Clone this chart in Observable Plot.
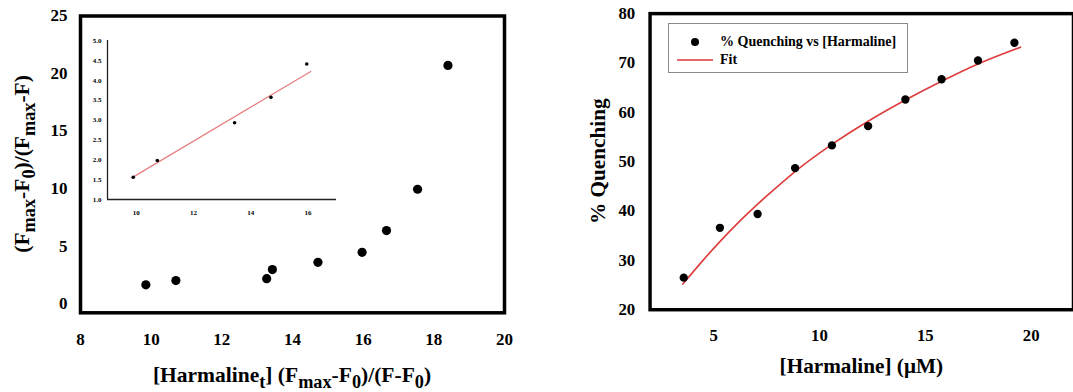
<!DOCTYPE html>
<html><head><meta charset="utf-8">
<script src="https://cdn.jsdelivr.net/npm/d3@7"></script>
<script src="https://cdn.jsdelivr.net/npm/@observablehq/plot@0.6"></script>
<style>
html,body{margin:0;padding:0;overflow:hidden;background:#fff;}
#wrap{position:relative;width:1073px;height:392px;overflow:hidden;font-family:"Liberation Serif",serif;font-weight:bold;}
.panel{position:absolute;top:0;}
#legend{position:absolute;left:668px;top:23px;width:238px;height:48px;border:1.5px solid #8a8a8a;background:#fff;font-size:14px;}
#legend .dot{position:absolute;left:22px;top:14px;width:8px;height:8px;border-radius:50%;background:#000;}
#legend .ln{position:absolute;left:8px;top:35px;width:36px;height:2px;background:#e06a6a;}
#legend .t{position:absolute;left:51px;line-height:14px;white-space:nowrap;}
</style></head><body>
<div id="wrap">
  <div id="left" class="panel" style="left:0"></div>
  <div id="inset" class="panel" style="left:80px;top:30px"></div>
  <div id="right" class="panel" style="left:540px"></div>
  <div id="legend">
    <div class="dot"></div><div class="t" style="top:11px">% Quenching vs [Harmaline]</div>
    <div class="ln"></div><div class="t" style="top:29px">Fit</div>
  </div>
</div>
<script>
// ---- Left main chart data ----
const mainX = [9.85, 10.70, 13.27, 13.43, 14.72, 15.97, 16.66, 17.54, 18.40];
const mainY = [1.63, 2.00, 2.17, 2.96, 3.59, 4.46, 6.35, 9.94, 20.7];
const leftXDomain = [8, 20];
const leftYDomain = [-0.8, 25];
const leftXTicks = [8, 10, 12, 14, 16, 18, 20];
const leftYTicks = [0, 5, 10, 15, 20, 25];

// ---- Inset data ----
const insetX = [9.90, 10.74, 13.44, 14.71, 15.96];
const insetY = [1.56, 1.98, 2.93, 3.57, 4.41];
const insetFitX = [9.86, 16.1];
const insetFitY = [1.55, 4.22];
const insetXDomain = [9, 17];
const insetYDomain = [1, 5];
const insetXTicks = [10, 12, 14, 16];
const insetYTicks = [1.0, 1.5, 2.0, 2.5, 3.0, 3.5, 4.0, 4.5, 5.0];

// ---- Right chart data ----
const qX = [3.59, 5.30, 7.08, 8.85, 10.59, 12.30, 14.06, 15.77, 17.49, 19.21];
const qY = [26.5, 36.6, 39.4, 48.7, 53.3, 57.2, 62.6, 66.7, 70.5, 74.1];
const fitX = [3.55, 4.5, 5.3, 6.2, 7.08, 8.0, 8.85, 10.59, 12.30, 14.06, 15.77, 17.49, 19.5];
const fitY = [25.2, 30.0, 33.8, 37.8, 41.4, 44.9, 48.0, 53.5, 58.2, 62.5, 66.3, 69.8, 73.2];
const rightXDomain = [2, 22];
const rightYDomain = [20, 80];
const rightXTicks = [5, 10, 15, 20];
const rightYTicks = [20, 30, 40, 50, 60, 70, 80];

const FONT = '"Liberation Serif", "Times New Roman", serif';
const zip = (xs, ys) => xs.map((x, i) => ({x, y: ys[i]}));
const txt = (size) => ({fontFamily: FONT, fontWeight: "bold", fontSize: size, fill: "black", lineAnchor: "middle"});

function addTitle(svg, parts, x, y, rot, fs) {
  const t = d3.select(svg).append("text")
    .attr("transform", `translate(${x},${y})` + (rot ? ` rotate(${rot})` : ""))
    .attr("text-anchor", "middle").attr("dy", "0.35em")
    .attr("fill", "black")
    .style("font-size", fs + "px").style("font-weight", "bold").style("font-family", FONT);
  let shifted = false;
  const sh = fs * 0.3;
  for (const [s, sub] of parts) {
    const sp = t.append("tspan").text(s);
    if (sub) {
      sp.style("font-size", (fs * 0.85) + "px");
      if (!shifted) { sp.attr("dy", sh); shifted = true; }
    } else if (shifted) { sp.attr("dy", -sh); shifted = false; }
  }
}

// ---- Left chart ----
const L = {width: 540, height: 392, ml: 80, mr: 36, mt: 15.5, mb: 79.7};
const left = Plot.plot({
  width: L.width, height: L.height,
  marginLeft: L.ml, marginRight: L.mr, marginTop: L.mt, marginBottom: L.mb,
  style: {background: "white", color: "black"},
  x: {domain: leftXDomain, axis: null},
  y: {domain: leftYDomain, axis: null},
  marks: [
    Plot.text(leftXTicks, {x: d => d, frameAnchor: "bottom", dy: 27, text: d => String(d), ...txt(17)}),
    Plot.text(leftYTicks, {y: d => d, frameAnchor: "left", dx: -13, textAnchor: "end", text: d => String(d), ...txt(17)}),
    Plot.dot(zip(mainX, mainY), {x: "x", y: "y", r: 4.6, fill: "black", stroke: "none"}),
    Plot.frame({stroke: "black", strokeWidth: 3.5})
  ]
});
document.getElementById("left").appendChild(left);
addTitle(left, [["[Harmaline",0],["t",1],["] (F",0],["max",1],["-F",0],["0",1],[")/(F-F",0],["0",1],[")",0]],
  L.ml + (L.width - L.ml - L.mr) / 2, 374, 0, 21.5);
addTitle(left, [["(F",0],["max",1],["-F",0],["0",1],[")/(F",0],["max",1],["-F)",0]],
  21, L.mt + (L.height - L.mt - L.mb) / 2, -90, 21.5);

// ---- Inset ----
const inset = Plot.plot({
  width: 260, height: 195,
  marginLeft: 27, marginRight: 4, marginTop: 10, marginBottom: 26,
  style: {background: "transparent", color: "#222", overflow: "visible"},
  x: {domain: insetXDomain, axis: null},
  y: {domain: insetYDomain, axis: null},
  marks: [
    Plot.text(insetXTicks, {x: d => d, frameAnchor: "bottom", dy: 13.5, text: d => String(d), ...txt(7)}),
    Plot.text(insetYTicks, {y: d => d, frameAnchor: "left", dx: -6, textAnchor: "end", text: d => d.toFixed(1), ...txt(7)}),
    Plot.ruleX([insetXDomain[0]], {stroke: "#222", strokeWidth: 1.3}),
    Plot.ruleY([insetYDomain[0]], {stroke: "#222", strokeWidth: 1.3}),
    Plot.line(zip(insetFitX, insetFitY), {x: "x", y: "y", stroke: "#e68080", strokeWidth: 1.3}),
    Plot.dot(zip(insetX, insetY), {x: "x", y: "y", r: 1.8, fill: "black", stroke: "none"})
  ]
});
document.getElementById("inset").appendChild(inset);

// ---- Right chart ----
const R = {width: 540, height: 392, ml: 111, mr: 0, mt: 13.3, mb: 78.7};
const right = Plot.plot({
  width: R.width, height: R.height,
  marginLeft: R.ml, marginRight: R.mr, marginTop: R.mt, marginBottom: R.mb,
  style: {background: "white", color: "black"},
  x: {domain: rightXDomain, axis: null},
  y: {domain: rightYDomain, axis: null},
  marks: [
    Plot.text(rightXTicks, {x: d => d, frameAnchor: "bottom", dy: 26.7, text: d => String(d), ...txt(17)}),
    Plot.text(rightYTicks, {y: d => d, frameAnchor: "left", dx: -15, textAnchor: "end", text: d => String(d), ...txt(17)}),
    Plot.line(zip(fitX, fitY), {x: "x", y: "y", stroke: "#dd3c3c", strokeWidth: 1.6, curve: "monotone-x"}),
    Plot.dot(zip(qX, qY), {x: "x", y: "y", r: 4.2, fill: "black", stroke: "none"}),
    Plot.frame({stroke: "black", strokeWidth: 3.5})
  ]
});
document.getElementById("right").appendChild(right);
addTitle(right, [["[Harmaline] (μM)",0]], R.ml + (R.width - R.ml - R.mr) / 2, 370, 0, 21.5);
addTitle(right, [["% Quenching",0]], 58, R.mt + (R.height - R.mt - R.mb) / 2, -90, 21.5);
</script>
</body></html>
